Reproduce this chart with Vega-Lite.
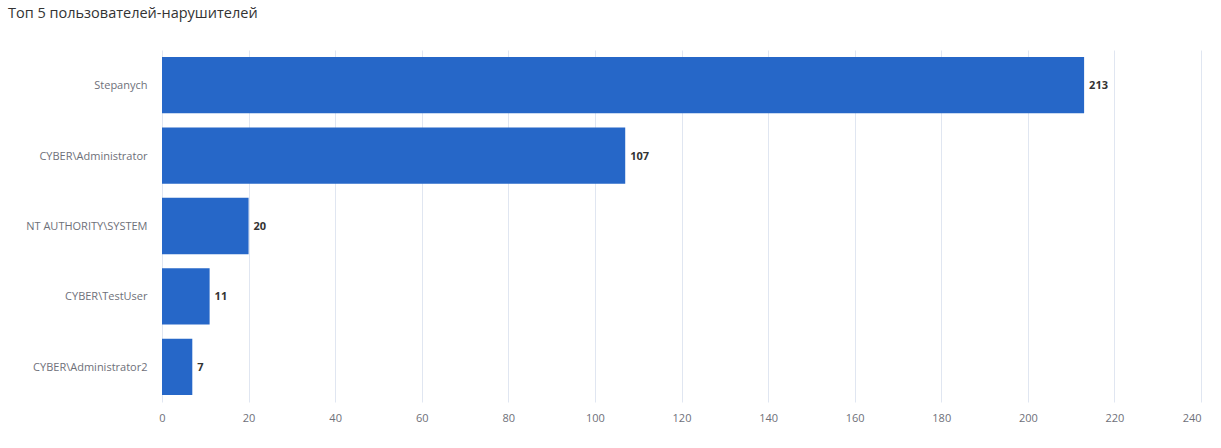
{
  "$schema": "https://vega.github.io/schema/vega-lite/v6.json",
  "autosize": {"type": "none"},
  "width": 1039,
  "height": 352,
  "padding": {"left": 162, "top": 50, "right": 20, "bottom": 46},
  "background": "#ffffff",
  "title": {
    "text": "Топ 5 пользователей-нарушителей",
    "anchor": "start",
    "frame": "group",
    "dx": -154,
    "offset": 18,
    "baseline": "alphabetic",
    "font": "Open Sans",
    "fontSize": 14.5,
    "fontWeight": "normal",
    "color": "#333333"
  },
  "config": {
    "view": {"stroke": null},
    "font": "Open Sans"
  },
  "data": {
    "values": [
      {"user": "Stepanych", "count": 213},
      {"user": "CYBER\\Administrator", "count": 107},
      {"user": "NT AUTHORITY\\SYSTEM", "count": 20},
      {"user": "CYBER\\TestUser", "count": 11},
      {"user": "CYBER\\Administrator2", "count": 7}
    ]
  },
  "encoding": {
    "y": {
      "field": "user",
      "type": "nominal",
      "sort": null,
      "scale": {"paddingInner": 0.2, "paddingOuter": 0.1},
      "axis": {
        "title": null,
        "domain": false,
        "ticks": false,
        "labelPadding": 15,
        "labelFontSize": 11,
        "labelColor": "#6e7079",
        "labelFont": "Open Sans",
        "labelOffset": 1
      }
    },
    "x": {
      "field": "count",
      "type": "quantitative",
      "scale": {"domain": [0, 240], "nice": false},
      "axis": {
        "title": null,
        "values": [0, 20, 40, 60, 80, 100, 120, 140, 160, 180, 200, 220, 240],
        "domain": false,
        "ticks": false,
        "grid": true,
        "gridColor": "#e0e6f1",
        "labelPadding": 10,
        "labelFontSize": 11,
        "labelColor": "#6e7079",
        "labelFont": "Open Sans",
        "labelAlign": {"condition": {"test": "datum.value == 240", "value": "right"}, "value": "center"}
      }
    }
  },
  "layer": [
    {"mark": {"type": "bar", "color": "#2667c8"}},
    {
      "mark": {"type": "text", "align": "left", "dx": 5, "dy": 1, "fontWeight": "bold", "fontSize": 11, "color": "#333333", "font": "Open Sans"},
      "encoding": {"text": {"field": "count", "type": "quantitative"}}
    }
  ]
}
